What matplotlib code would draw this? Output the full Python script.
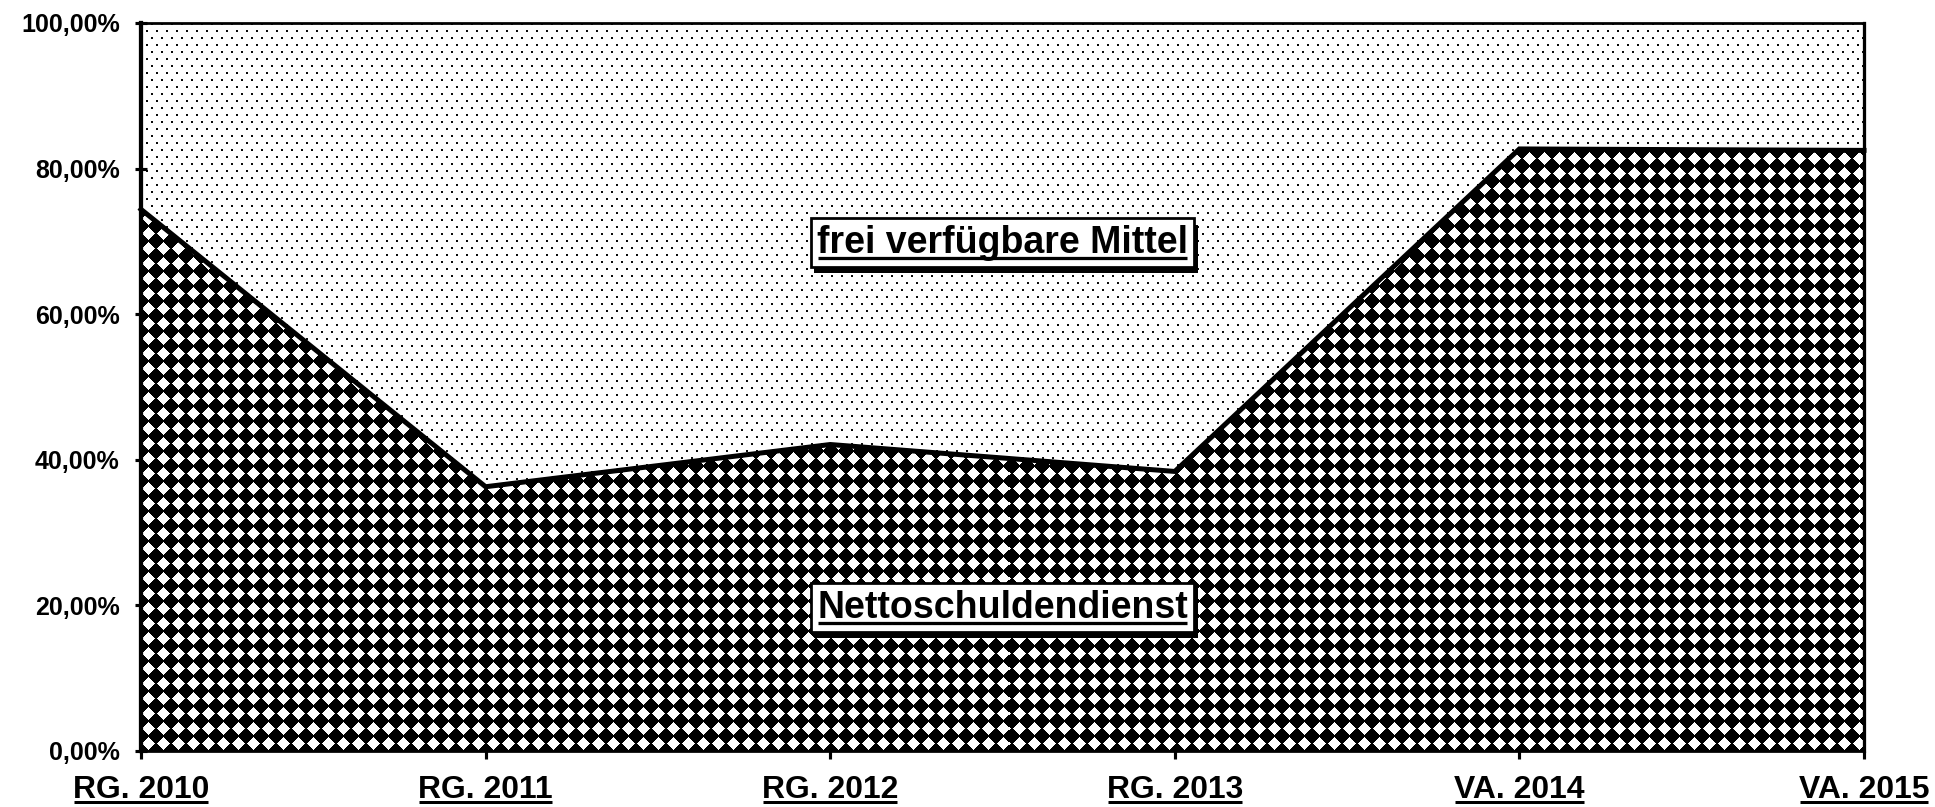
import matplotlib
matplotlib.use('Agg')
import numpy as np
import matplotlib.pyplot as plt
from matplotlib.lines import Line2D
import matplotlib.patheffects as pe

categories = ['RG. 2010', 'RG. 2011', 'RG. 2012', 'RG. 2013', 'VA. 2014', 'VA. 2015']
netto = [74.4, 36.3, 42.1, 38.4, 82.7, 82.5]
yticks = [0, 20, 40, 60, 80, 100]
ytick_labels = ['0,00%', '20,00%', '40,00%', '60,00%', '80,00%', '100,00%']
label_netto = 'Nettoschuldendienst'
label_frei = 'frei verfügbare Mittel'

plt.rcParams['font.family'] = ['Liberation Sans', 'DejaVu Sans']
plt.rcParams['font.weight'] = 'bold'

DPI = 90
W, H = 1935, 807
fig = plt.figure(figsize=(W / DPI, H / DPI), dpi=DPI)
fig.patch.set_facecolor('white')
L, R, T, B = 141, 1864, 23, 751
ax = fig.add_axes([L / W, 1 - B / H, (R - L) / W, (B - T) / H])

x = list(range(len(categories)))
n = len(x)
ax.set_xlim(0, n - 1)
ax.set_ylim(0, 100)

# polygons of the two stacked areas (from the data)
poly_dark = ax.fill(x + x[::-1], netto + [0] * n, fc='none', lw=0)[0]
poly_light = ax.fill(x + x[::-1], [100] * n + netto[::-1], fc='none', lw=0)[0]

# textures (pure styling)
pw, ph = R - L, B - T
jj, ii = np.meshgrid(np.arange(pw), np.arange(ph))
# diamonds: white diamonds on black, square grid
p = 15.0
u = np.abs((jj + 0.5) % p - p / 2)
v = np.abs((ph - ii - 0.5) % p - p / 2)
dark_tex = ((u + v) < 6.2).astype(float)
# dots: small black dots on white, staggered grid
row = (ii // 7)
colshift = (row % 2) * 5
dots = ((ii % 7) < 2) & (((jj + colshift) % 10) < 2)
light_tex = np.where(dots, 0.05, 1.0)

ext = (0, n - 1, 0, 100)
im_l = ax.imshow(light_tex, cmap='gray', vmin=0, vmax=1, extent=ext,
                 aspect='auto', interpolation='nearest', zorder=1, origin='upper')
im_l.set_clip_path(poly_light)
im_d = ax.imshow(dark_tex, cmap='gray', vmin=0, vmax=1, extent=ext,
                 aspect='auto', interpolation='nearest', zorder=2, origin='upper')
im_d.set_clip_path(poly_dark)

ax.plot(x, netto, color='black', lw=4.0, zorder=3, solid_joinstyle='miter',
        clip_on=False)

ax.set_xticks(x)
ax.set_xticklabels(categories, fontsize=25.5, fontweight='bold')
ax.set_yticks(yticks)
ax.set_yticklabels(ytick_labels, fontsize=20, fontweight='bold')
ax.tick_params(axis='y', direction='inout', length=10, width=2.5, pad=12)
ax.tick_params(axis='x', direction='out', length=6, width=2.5, pad=13)

ax.spines['left'].set_linewidth(3.4)
ax.spines['top'].set_linewidth(2.2)
ax.spines['right'].set_linewidth(2.6)
ax.spines['bottom'].set_linewidth(2.2)
for s in ax.spines.values():
    s.set_zorder(4)

boxes = []
for (xx, yy, txt) in [(2.5, 69.8, label_frei), (2.5, 19.7, label_netto)]:
    t = ax.text(xx, yy, txt, ha='center', va='center', fontsize=30,
                fontweight='bold', zorder=6,
                bbox=dict(boxstyle='square,pad=0.17', fc='white', ec='black', lw=2.2))
    t.get_bbox_patch().set_path_effects([
        pe.SimplePatchShadow(offset=(3, -5), shadow_rgbFace='black', alpha=1.0),
        pe.Normal()])
    boxes.append(t)

fig.canvas.draw()
r = fig.canvas.get_renderer()
inv = fig.transFigure.inverted()


def underline(t, off_px, lw):
    bb = t.get_window_extent(r)
    x0, y0 = inv.transform((bb.x0 + 1, bb.y0 + off_px))
    x1, _ = inv.transform((bb.x1 - 1, bb.y0 + off_px))
    fig.add_artist(Line2D([x0, x1], [y0, y0], transform=fig.transFigure,
                          color='black', lw=lw, zorder=10,
                          solid_capstyle='butt'))


for lab in ax.get_xticklabels():
    underline(lab, 3, 2.4)
for t in boxes:
    underline(t, 3, 2.6)

fig.savefig('out.png', dpi=DPI, facecolor='white')
